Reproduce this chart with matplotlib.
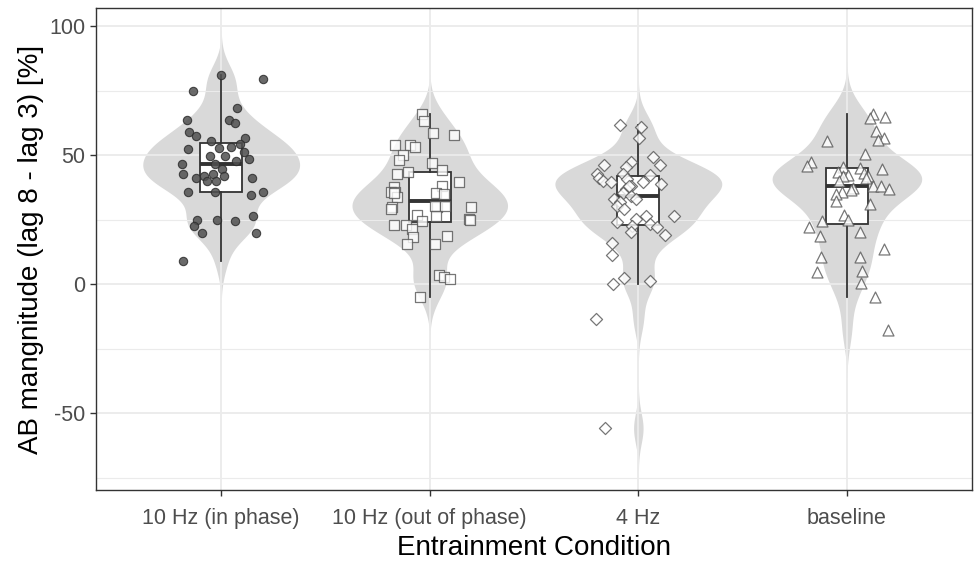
import numpy as np
import matplotlib.pyplot as plt

conditions = ['10 Hz (in phase)', '10 Hz (out of phase)', '4 Hz', 'baseline']

# AB magnitude per participant, one list per condition
in_phase = [81.2, 79.4, 75.0, 68.4, 63.6, 63.6, 62.5, 59.0, 57.3, 56.7, 55.4, 54.2, 52.5,
            52.9, 53.2, 51.2, 49.8, 49.8, 48.6, 47.7, 46.4, 46.7, 44.6, 42.7, 42.8, 41.8,
            42.0, 41.0, 40.1, 40.1, 41.1, 35.7, 35.8, 35.7, 34.4, 26.3, 24.8, 24.8, 24.6,
            22.4, 19.8, 19.8, 9.1]
out_phase = [66.0, 63.1, 58.5, 57.9, 53.9, 53.9, 53.3, 49.9, 48.1, 47.1, 43.3, 44.4, 42.7,
             39.7, 37.6, 38.2, 35.6, 35.6, 35.3, 34.8, 33.8, 30.0, 30.1, 30.4, 29.9, 29.1,
             29.8, 25.1, 25.0, 26.3, 26.6, 24.4, 22.8, 23.0, 21.2, 18.6, 18.2, 15.6, 15.6,
             3.4, 2.6, 1.9, -4.9, 35.2]
hz4 = [61.5, 61.0, 56.8, 49.2, 46.3, 46.2, 47.3, 45.5, 42.6, 42.2, 42.7, 41.3, 40.0, 39.6,
       39.6, 38.9, 40.9, 37.9, 36.7, 35.4, 34.0, 33.0, 33.1, 31.9, 30.4, 29.1, 26.4, 26.4,
       25.2, 23.9, 23.4, 22.6, 22.0, 20.1, 18.9, 15.9, 11.1, 2.3, 1.3, -0.1, -13.6, -55.9,
       38.0]
baseline = [66.0, 64.5, 64.9, 59.2, 56.8, 55.9, 55.6, 50.3, 47.5, 45.9, 44.7, 45.3, 44.9,
            43.6, 42.3, 42.0, 42.9, 41.8, 41.1, 40.0, 38.0, 38.1, 37.0, 37.3, 36.4, 35.6,
            35.1, 32.1, 31.2, 26.6, 25.0, 24.4, 22.1, 20.1, 18.5, 13.5, 10.5, 10.5, 4.7,
            5.2, 0.3, -5.0, -17.9]

# horizontal jitter of each point (category units)
jit_in = [0.0, 0.201, -0.134, 0.075, -0.166, 0.037, 0.064, -0.153, -0.123, 0.115, -0.048,
          0.089, -0.157, -0.011, 0.046, 0.109, -0.053, 0.019, 0.131, 0.073, -0.190, -0.032,
          0.002, -0.184, -0.038, -0.081, 0.013, -0.123, -0.070, -0.024, 0.150, -0.161,
          -0.032, 0.200, 0.145, 0.152, -0.115, -0.019, 0.067, -0.129, -0.094, 0.166, -0.182]
jit_out = [-0.037, -0.026, 0.014, 0.115, -0.168, -0.093, -0.073, -0.129, -0.147, 0.011,
           -0.102, 0.061, -0.158, 0.139, -0.173, 0.061, -0.185, -0.169, 0.029, 0.069,
           -0.155, 0.035, 0.024, 0.072, -0.181, -0.185, 0.196, 0.190, 0.193, 0.029, -0.062,
           -0.035, -0.171, -0.115, -0.086, 0.081, -0.080, -0.107, 0.027, 0.045, 0.067,
           0.099, -0.045, -0.172]
jit_4 = [-0.088, 0.011, 0.002, 0.070, 0.104, -0.163, -0.034, -0.058, -0.196, 0.058, -0.072,
         -0.187, -0.168, -0.129, 0.024, 0.110, -0.056, -0.035, -0.061, -0.075, -0.034,
         -0.115, -0.013, -0.089, -0.104, -0.069, 0.173, 0.037, -0.010, -0.101, 0.058,
         -0.029, 0.089, -0.034, 0.126, -0.128, -0.128, -0.069, 0.058, -0.120, -0.201,
         -0.160, -0.045]
jit_base = [0.126, 0.110, 0.182, 0.141, 0.176, 0.147, -0.094, 0.086, -0.173, -0.192, 0.169,
            -0.021, 0.064, -0.042, 0.006, -0.018, 0.083, 0.101, 0.091, -0.038, 0.126, 0.163,
            0.200, 0.030, 0.022, -0.024, -0.051, -0.053, 0.110, -0.014, 0.006, -0.121,
            -0.182, 0.062, -0.129, 0.179, -0.125, 0.062, -0.141, 0.073, 0.067, 0.134, 0.195]

groups = [in_phase, out_phase, hz4, baseline]


def bw_nrd0(x):
    x = np.asarray(x)
    q75, q25 = np.percentile(x, [75, 25])
    lo = min(np.std(x, ddof=1), (q75 - q25) / 1.34)
    return 0.9 * lo * len(x) ** -0.2


def kde(x):
    x = np.asarray(x)
    bw = bw_nrd0(x)
    grid = np.linspace(x.min() - 3 * bw, x.max() + 3 * bw, 512)
    d = np.exp(-0.5 * ((grid[:, None] - x[None, :]) / bw) ** 2).sum(axis=1)
    d /= len(x) * bw * np.sqrt(2 * np.pi)
    return grid, d


plt.rcParams['font.family'] = ['Liberation Sans', 'DejaVu Sans']
plt.rcParams['axes.unicode_minus'] = False

fig = plt.figure(figsize=(9.74, 5.63), dpi=100)
ax = fig.add_axes([0.0986, 0.1297, 0.8994, 0.8561])

pos = np.arange(1, len(conditions) + 1)

# violins, area-scaled with total width 0.8
dens = [kde(g) for g in groups]
dmax = max(d.max() for _, d in dens)
for p, (grid, d) in zip(pos, dens):
    hw = 0.4 * d / dmax
    ax.fill_betweenx(grid, p - hw, p + hw, color='#d9d9d9', lw=0, zorder=1)

# gridlines
for v in [-75, -25, 25, 75]:
    ax.axhline(v, color='#ebebeb', lw=0.8, zorder=1.5)
for v in [-50, 0, 50, 100]:
    ax.axhline(v, color='#ebebeb', lw=1.3, zorder=1.5)
for p in pos:
    ax.axvline(p, color='#ebebeb', lw=1.3, zorder=1.5)

ax.boxplot(groups, positions=pos, widths=0.2, showfliers=False, patch_artist=True,
           boxprops=dict(facecolor='white', edgecolor='#333333', lw=1.3),
           whiskerprops=dict(color='#333333', lw=1.3),
           capprops=dict(lw=0),
           medianprops=dict(color='#333333', lw=2.8),
           zorder=2)

ax.scatter(pos[0] + np.array(jit_in), in_phase, s=36, marker='o',
           facecolor='#505050', edgecolor='#2e2e2e', lw=0.8, alpha=0.85, zorder=3)
ax.scatter(pos[1] + np.array(jit_out), out_phase, s=42, marker='s',
           facecolor='white', edgecolor='#555555', lw=0.9, alpha=0.8, zorder=3)
ax.scatter(pos[2] + np.array(jit_4), hz4, s=38, marker='D',
           facecolor='white', edgecolor='#555555', lw=0.9, alpha=0.8, zorder=3)
ax.scatter(pos[3] + np.array(jit_base), baseline, s=62, marker='^',
           facecolor='white', edgecolor='#555555', lw=0.9, alpha=0.8, zorder=3)

ax.set_xlim(0.4, 4.6)
ax.set_ylim(-79.8, 107)
ax.set_xticks(pos)
ax.set_xticklabels(conditions)
ax.set_yticks([-50, 0, 50, 100])
ax.tick_params(colors='#333333', labelcolor='#4d4d4d', labelsize=15.5, length=4, width=1)
ax.tick_params(axis='x', pad=9)
for s in ax.spines.values():
    s.set_color('#333333')
    s.set_linewidth(1)
ax.set_xlabel('Entrainment Condition', fontsize=20, labelpad=4)
ax.set_ylabel('AB mangnitude (lag 8 - lag 3) [%]', fontsize=20, labelpad=4)

fig.savefig('out.png', dpi=100)
